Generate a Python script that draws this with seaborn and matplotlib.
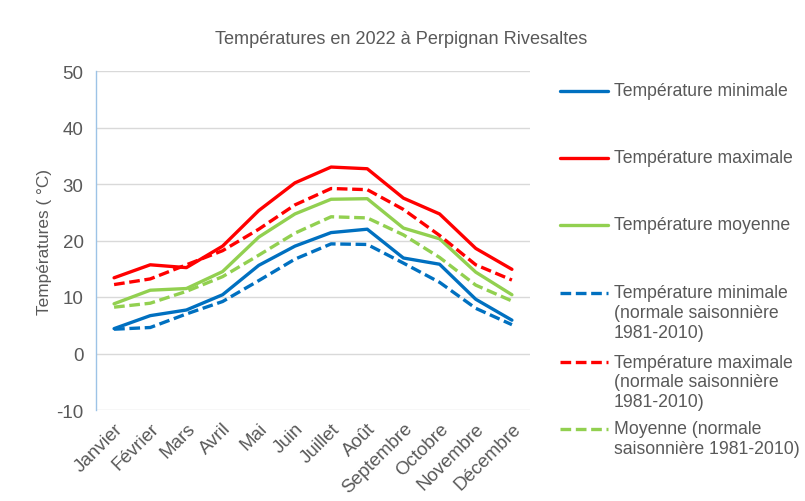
import matplotlib
matplotlib.use("Agg")
import matplotlib.pyplot as plt
import seaborn as sns
import pandas as pd
from matplotlib.lines import Line2D

# -----------------------------
# Data
# -----------------------------
months = ["Janvier", "Février", "Mars", "Avril", "Mai", "Juin", "Juillet",
          "Août", "Septembre", "Octobre", "Novembre", "Décembre"]

t_min = [4.4, 6.7, 7.7, 10.4, 15.6, 19.0, 21.4, 22.0, 16.9, 15.8, 9.6, 5.9]
t_max = [13.4, 15.7, 15.2, 19.0, 25.3, 30.2, 33.0, 32.7, 27.5, 24.7, 18.6, 14.9]
t_moy = [8.8, 11.2, 11.5, 14.5, 20.6, 24.7, 27.3, 27.4, 22.2, 20.3, 14.4, 10.4]
n_min = [4.3, 4.6, 7.0, 9.2, 12.9, 16.7, 19.4, 19.3, 16.0, 12.6, 8.0, 5.1]
n_max = [12.2, 13.2, 15.7, 18.2, 22.0, 26.3, 29.2, 29.0, 25.5, 20.9, 15.7, 13.0]
n_moy = [8.2, 8.9, 11.0, 13.6, 17.4, 21.3, 24.2, 24.0, 21.0, 17.0, 12.1, 9.3]

labels = ["Température minimale",
          "Température maximale",
          "Température moyenne",
          "Température minimale\n(normale saisonnière\n1981-2010)",
          "Température maximale\n(normale saisonnière\n1981-2010)",
          "Moyenne (normale\nsaisonnière 1981-2010)"]

series = [t_min, t_max, t_moy, n_min, n_max, n_moy]
colors = ["#0070C0", "#FF0000", "#92D050", "#0070C0", "#FF0000", "#92D050"]
dashed = [False, False, False, True, True, True]

# -----------------------------
# Style
# -----------------------------
sns.set_theme(style="white")
plt.rcParams["font.family"] = ["Liberation Sans", "DejaVu Sans"]
plt.rcParams["axes.unicode_minus"] = False
TXT = "#595959"

fig = plt.figure(figsize=(8.05, 5.02), dpi=100)
ax = fig.add_axes([96 / 805, 1 - 411 / 502, (530 - 96) / 805, (411 - 72) / 502])

LW = 2.4
DASH = (3.2, 1.4)

for vals, col, dsh in zip(series, colors, dashed):
    df = pd.DataFrame({"mois": months, "temp": vals})
    sns.lineplot(data=df, x="mois", y="temp", sort=False, color=col, lw=LW,
                 ax=ax, legend=False)
    if dsh:
        ax.lines[-1].set_dashes(DASH)

ax.set_xlim(-0.5, 11.5)
ax.set_ylim(-10, 50)
ax.set_yticks(range(-10, 51, 10))
ax.grid(axis="y", color="#D9D9D9", lw=1)
ax.set_axisbelow(True)

for s in ["top", "right", "bottom"]:
    ax.spines[s].set_visible(False)
ax.spines["left"].set_color("#9DC3E6")
ax.spines["left"].set_linewidth(1)

ax.tick_params(axis="both", length=0, colors=TXT, labelsize=13.5)
ax.tick_params(axis="y", pad=9)
plt.setp(ax.get_xticklabels(), rotation=45, ha="right", rotation_mode="anchor")
ax.tick_params(axis="x", pad=7)

ax.set_xlabel("")
ax.set_ylabel("Températures ( °C)", color=TXT, fontsize=12.4, labelpad=3)

fig.text(401 / 805, 1 - 40 / 502, "Températures en 2022 à Perpignan Rivesaltes",
         ha="center", va="center", color=TXT, fontsize=13.1)

# -----------------------------
# Legend (placed like the Excel one)
# -----------------------------
FS_LEG = 12.7
leg_y = [92, 159, 226, 294, 363, 430]
for lab, col, dsh, y in zip(labels, colors, dashed, leg_y):
    yf = 1 - y / 502
    ln = Line2D([560 / 805, 608 / 805], [yf, yf], color=col, lw=LW,
                transform=fig.transFigure)
    if dsh:
        ln.set_dashes(DASH)
    fig.add_artist(ln)
    fig.text(614 / 805, yf, lab.split("\n")[0], ha="left", va="center",
             color=TXT, fontsize=FS_LEG)
    for k, extra in enumerate(lab.split("\n")[1:], start=1):
        fig.text(614 / 805, 1 - (y + 20 * k) / 502, extra, ha="left",
                 va="center", color=TXT, fontsize=FS_LEG)

fig.savefig("out.png", dpi=100)
